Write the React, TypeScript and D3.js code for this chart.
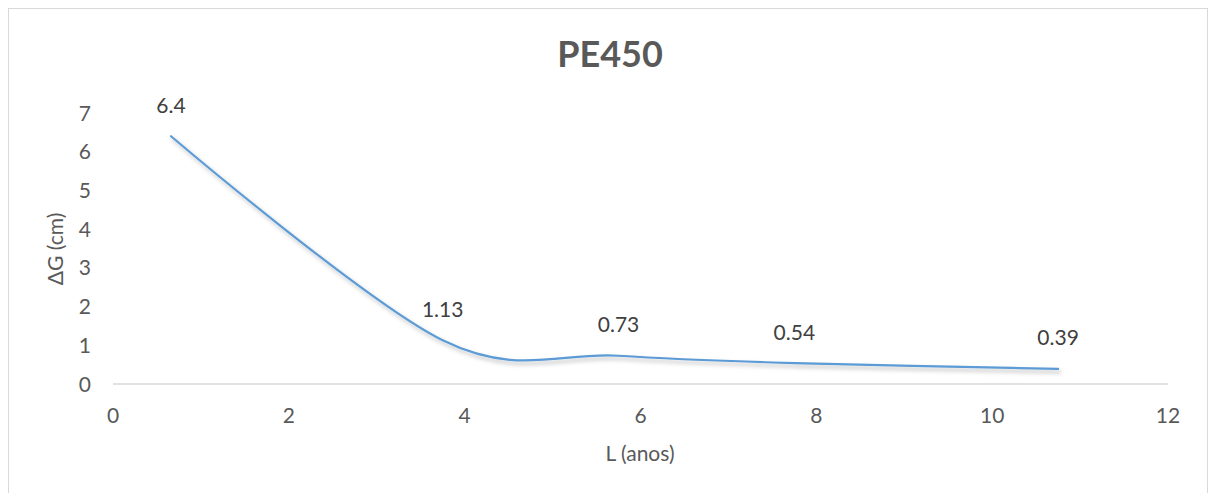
import React from "react";
import * as d3 from "d3";

const title = "PE450";
const xLabel = "L (anos)";
const yLabel = "ΔG (cm)";
const xValues = [0.66, 3.75, 5.75, 7.75, 10.75];
const yValues = [6.4, 1.13, 0.73, 0.54, 0.39];
const dataLabels = ["6.4", "1.13", "0.73", "0.54", "0.39"];
const xTicks = [0, 2, 4, 6, 8, 10, 12];
const yTicks = [0, 1, 2, 3, 4, 5, 6, 7];

const W = 1210;
const H = 493;
const FONT = "Lato, 'Open Sans', sans-serif";
const GREY = "#595959";

export default function App() {
  const x = d3.scaleLinear().domain([0, 12]).range([113, 1168]);
  const y = d3.scaleLinear().domain([0, 7]).range([384, 113]);
  const pts = xValues.map((v, i) => [v, yValues[i]] as [number, number]);
  const line = d3
    .line<[number, number]>()
    .x((d) => x(d[0]))
    .y((d) => y(d[1]))
    .curve(d3.curveCardinal.tension(0));
  const path = line(pts) || "";

  return (
    <svg
      width={W}
      height={H}
      style={{ position: "absolute", left: 0, top: 0, background: "#fff" }}
      fontFamily={FONT}
    >
      <defs>
        <filter id="shadow" x="-10%" y="-10%" width="120%" height="130%">
          <feDropShadow dx="2" dy="3" stdDeviation="2.2" floodColor="#000" floodOpacity="0.28" />
        </filter>
      </defs>
      <rect x={8.5} y={8.5} width={1199} height={H + 20} fill="#fff" stroke="#d9d9d9" strokeWidth={1} />
      <text x={610} y={67} textAnchor="middle" fontSize={36} fontWeight="bold" fill={GREY}>
        {title}
      </text>
      <line x1={x(0)} x2={x(12)} y1={y(0)} y2={y(0)} stroke="#d9d9d9" strokeWidth={1.5} />
      {yTicks.map((t) => (
        <text key={"y" + t} x={91} y={y(t)} dy="0.36em" textAnchor="end" fontSize={21} fill={GREY}>
          {t}
        </text>
      ))}
      {xTicks.map((t) => (
        <text key={"x" + t} x={x(t)} y={415} dy="0.36em" textAnchor="middle" fontSize={21} fill={GREY}>
          {t}
        </text>
      ))}
      <text x={640} y={453} dy="0.36em" textAnchor="middle" fontSize={21} fill={GREY}>
        {xLabel}
      </text>
      <text
        transform={`translate(55,249) rotate(-90)`}
        dy="0.36em"
        textAnchor="middle"
        fontSize={21}
        fill={GREY}
      >
        {yLabel}
      </text>
      <path d={path} fill="none" stroke="#5B9BD5" strokeWidth={2.2} strokeLinecap="round" filter="url(#shadow)" />
      {pts.map((p, i) => (
        <text
          key={"l" + i}
          x={x(p[0])}
          y={y(p[1]) - 31}
          dy="0.36em"
          textAnchor="middle"
          fontSize={21}
          fill="#404040"
        >
          {dataLabels[i]}
        </text>
      ))}
    </svg>
  );
}
